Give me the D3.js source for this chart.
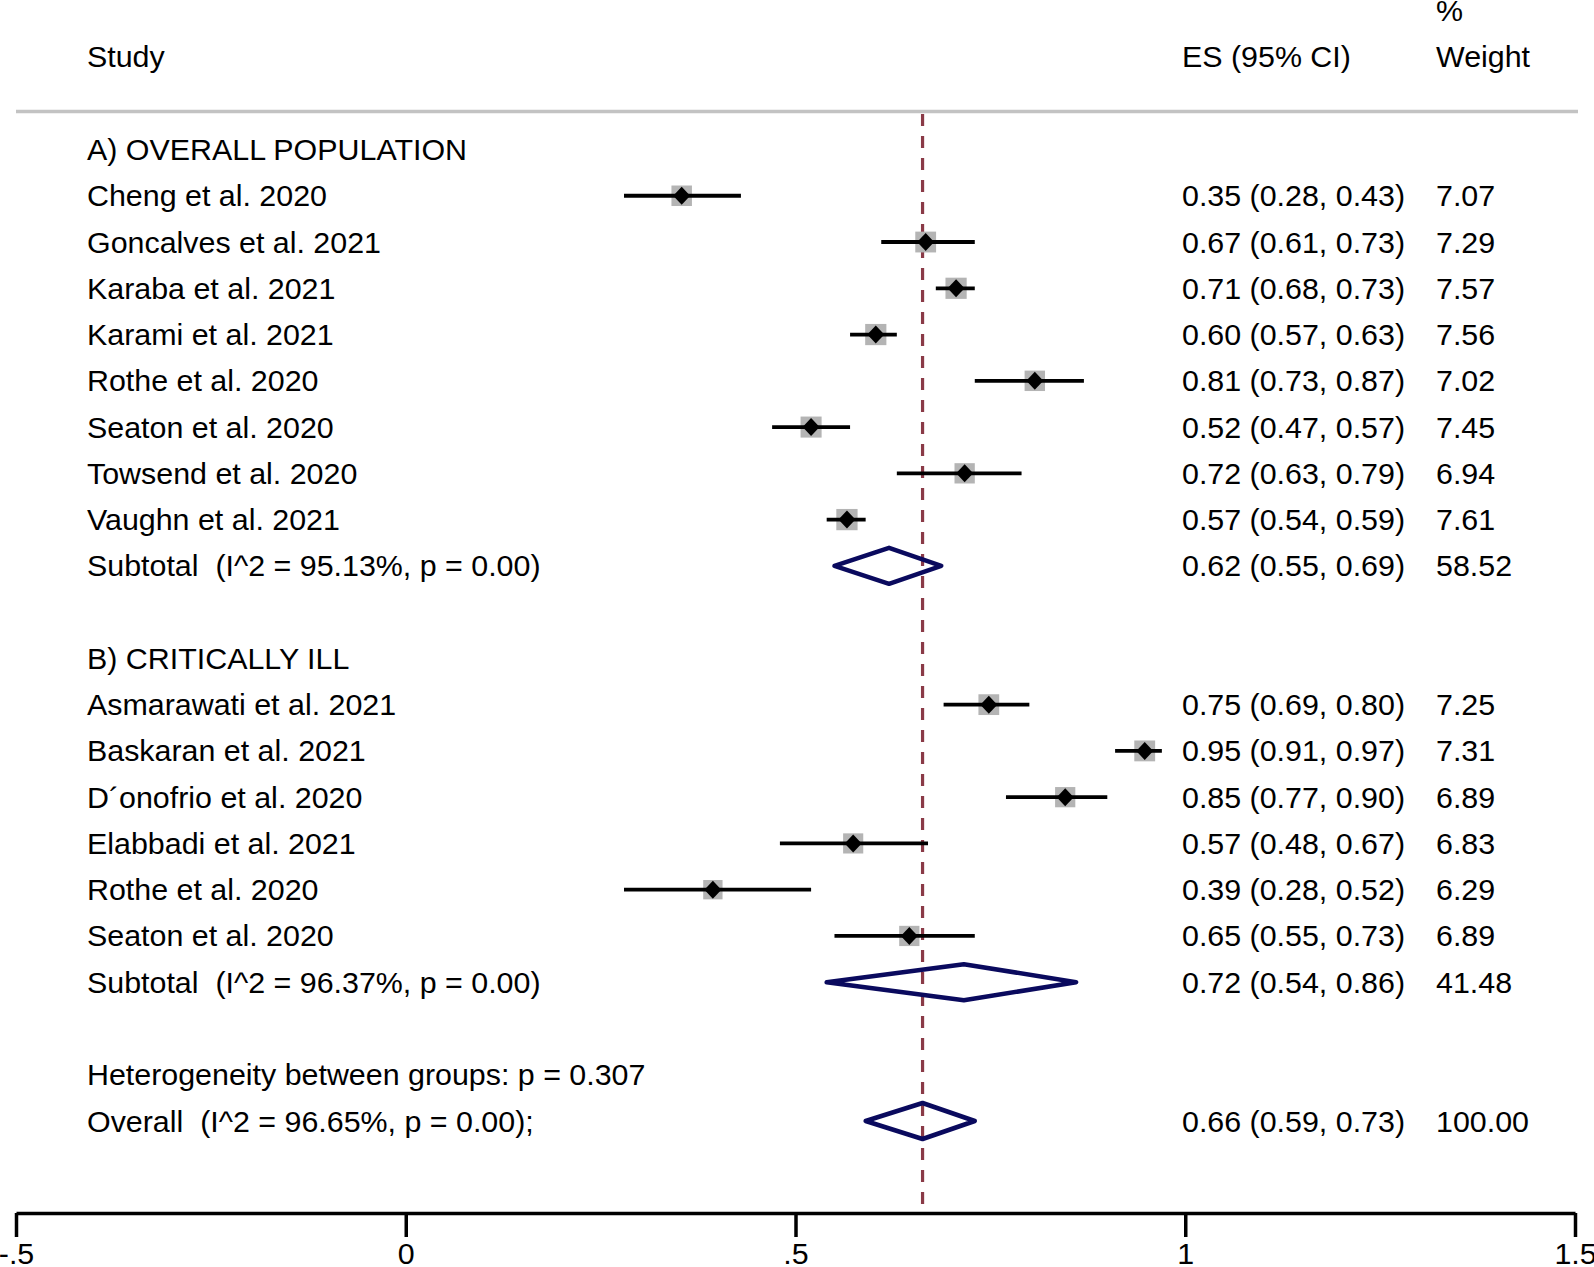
<!DOCTYPE html>
<html>
<head>
<meta charset="utf-8">
<script src="https://cdn.jsdelivr.net/npm/d3@7"></script>
<style>
  html, body { margin: 0; padding: 0; background: #fff; }
  svg text { font-family: "Liberation Sans", Arial, Helvetica, sans-serif; font-size: 30.4px; fill: #000; white-space: pre; }
</style>
</head>
<body>
<div id="chart"></div>
<script>
// ---------------- data ----------------
const groupA_title = "A) OVERALL POPULATION";
const groupA_names = ["Cheng et al. 2020", "Goncalves et al. 2021", "Karaba et al. 2021", "Karami et al. 2021",
                      "Rothe et al. 2020", "Seaton et al. 2020", "Towsend et al. 2020", "Vaughn et al. 2021"];
const groupA_es = [0.354, 0.667, 0.706, 0.603, 0.807, 0.520, 0.717, 0.566];
const groupA_lo = [0.28, 0.61, 0.68, 0.57, 0.73, 0.47, 0.63, 0.54];
const groupA_hi = [0.43, 0.73, 0.73, 0.63, 0.87, 0.57, 0.79, 0.59];
const groupA_w  = [7.07, 7.29, 7.57, 7.56, 7.02, 7.45, 6.94, 7.61];
const subtotalA = { label: "Subtotal  (I^2 = 95.13%, p = 0.00)", es: 0.620, lo: 0.55, hi: 0.687, w: 58.52 };

const groupB_title = "B) CRITICALLY ILL";
const groupB_names = ["Asmarawati et al. 2021", "Baskaran et al. 2021", "D\u00B4onofrio et al. 2020", "Elabbadi et al. 2021",
                      "Rothe et al. 2020", "Seaton et al. 2020"];
const groupB_es = [0.748, 0.948, 0.846, 0.574, 0.394, 0.646];
const groupB_lo = [0.69, 0.91, 0.77, 0.48, 0.28, 0.55];
const groupB_hi = [0.80, 0.97, 0.90, 0.67, 0.52, 0.73];
const groupB_w  = [7.25, 7.31, 6.89, 6.83, 6.29, 6.89];
const subtotalB = { label: "Subtotal  (I^2 = 96.37%, p = 0.00)", es: 0.716, lo: 0.54, hi: 0.86, w: 41.48 };

const heterogeneityText = "Heterogeneity between groups: p = 0.307";
const overall = { label: "Overall  (I^2 = 96.65%, p = 0.00);", es: 0.663, lo: 0.59, hi: 0.73, w: 100.00 };

const xTicks = [-0.5, 0, 0.5, 1, 1.5];
const xTickLabels = ["-.5", "0", ".5", "1", "1.5"];
const headers = { study: "Study", es: "ES (95% CI)", pct: "%", weight: "Weight" };

// ---------------- layout ----------------
const W = 1594, H = 1267;
const svg = d3.select("#chart").append("svg").attr("width", W).attr("height", H);

const x = d3.scaleLinear().domain([-0.5, 1.5]).range([16, 1575]);
const row = d3.scaleLinear().domain([0, 21]).range([149.5, 1121]);
const textOff = 10.5;
const xLabel = 87, xES = 1182, xWt = 1436;
const axisY = 1213;
const f2 = d3.format(".2f");
const sq = d3.scaleSqrt().domain([0, 7.07]).range([0, 20.5]);

// build rows
const rows = [];
rows.push({ type: "title", label: groupA_title, i: 0 });
groupA_names.forEach((n, k) => rows.push({ type: "study", label: n, es: groupA_es[k], lo: groupA_lo[k], hi: groupA_hi[k], w: groupA_w[k], i: 1 + k }));
rows.push(Object.assign({ type: "sub", i: 9 }, subtotalA));
rows.push({ type: "title", label: groupB_title, i: 11 });
groupB_names.forEach((n, k) => rows.push({ type: "study", label: n, es: groupB_es[k], lo: groupB_lo[k], hi: groupB_hi[k], w: groupB_w[k], i: 12 + k }));
rows.push(Object.assign({ type: "sub", i: 18 }, subtotalB));
rows.push({ type: "title", label: heterogeneityText, i: 20 });
rows.push(Object.assign({ type: "sub", i: 21 }, overall));

// headers
svg.append("text").attr("x", xLabel).attr("y", row(-2) + textOff).text(headers.study);
svg.append("text").attr("x", xES).attr("y", row(-2) + textOff).text(headers.es);
svg.append("text").attr("x", xWt).attr("y", row(-3) + textOff).text(headers.pct);
svg.append("text").attr("x", xWt).attr("y", row(-2) + textOff).text(headers.weight);

// gray separator
svg.append("line").attr("x1", 16).attr("x2", 1578).attr("y1", 111.5).attr("y2", 111.5)
  .attr("stroke", "#c3c3c3").attr("stroke-width", 3.5);

// labels
svg.selectAll("text.lab").data(rows).join("text").attr("class", "lab")
  .attr("x", xLabel).attr("y", d => row(d.i) + textOff).text(d => d.label);

const valued = rows.filter(d => d.type !== "title");
svg.selectAll("text.es").data(valued).join("text").attr("class", "es")
  .attr("x", xES).attr("y", d => row(d.i) + textOff)
  .text(d => `${f2(d.es)} (${f2(d.lo)}, ${f2(d.hi)})`);
svg.selectAll("text.wt").data(valued).join("text").attr("class", "wt")
  .attr("x", xWt).attr("y", d => row(d.i) + textOff)
  .text(d => f2(d.w));

// overall dashed line
svg.append("line").attr("x1", x(overall.es)).attr("x2", x(overall.es))
  .attr("y1", 114).attr("y2", axisY - 2)
  .attr("stroke", "#8a3a47").attr("stroke-width", 3.2).attr("stroke-dasharray", "12,10");

// study markers
const studies = rows.filter(d => d.type === "study");
svg.selectAll("rect.box").data(studies).join("rect").attr("class", "box")
  .attr("x", d => x(d.es) - sq(d.w) / 2).attr("y", d => row(d.i) - sq(d.w) / 2)
  .attr("width", d => sq(d.w)).attr("height", d => sq(d.w))
  .attr("fill", "#b4b4b4");
svg.selectAll("line.ci").data(studies).join("line").attr("class", "ci")
  .attr("x1", d => x(d.lo)).attr("x2", d => x(d.hi))
  .attr("y1", d => row(d.i)).attr("y2", d => row(d.i))
  .attr("stroke", "#000").attr("stroke-width", 3.8);
svg.selectAll("path.pt").data(studies).join("path").attr("class", "pt")
  .attr("d", d => { const cx = x(d.es), cy = row(d.i); return `M${cx - 8.5},${cy} L${cx},${cy - 9} L${cx + 8.5},${cy} L${cx},${cy + 9} Z`; })
  .attr("fill", "#000");

// pooled diamonds
const subs = rows.filter(d => d.type === "sub");
svg.selectAll("path.dia").data(subs).join("path").attr("class", "dia")
  .attr("d", d => { const cy = row(d.i); return `M${x(d.lo)},${cy} L${x(d.es)},${cy - 18} L${x(d.hi)},${cy} L${x(d.es)},${cy + 18} Z`; })
  .attr("fill", "none").attr("stroke", "#0a0a5e").attr("stroke-width", 4.5).attr("stroke-linejoin", "round");

// axis
const axis = d3.axisBottom(x).tickValues(xTicks).tickSizeOuter(0).tickSizeInner(24).tickPadding(5)
  .tickFormat((d, k) => xTickLabels[k]);
const gAx = svg.append("g").attr("transform", `translate(0,${axisY})`).call(axis);
gAx.select(".domain").attr("stroke", "#000").attr("stroke-width", 3.5);
gAx.selectAll(".tick line").attr("stroke", "#000").attr("stroke-width", 3.5);
gAx.selectAll(".tick text").attr("font-family", null).attr("font-size", null).attr("fill", "#000");
</script>
</body>
</html>
